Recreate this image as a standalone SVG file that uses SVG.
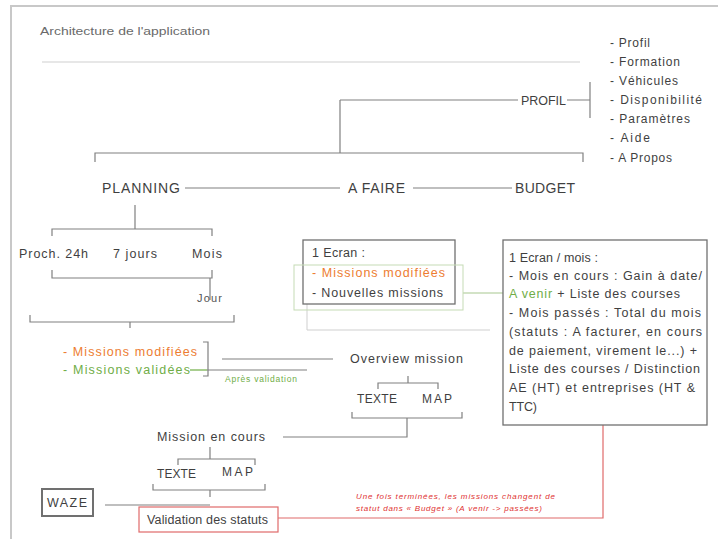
<svg xmlns="http://www.w3.org/2000/svg" width="718" height="539" viewBox="0 0 718 539">
<style>
  text { font-family: "Liberation Sans", Arial, sans-serif; fill: #3f3f3f; }
  .t { font-size: 11px; fill: #6a6a6a; }
  .m { font-size: 14px; }
  .s { font-size: 12.5px; }
  .b { font-size: 12.5px; }
  .l { font-size: 12px; }
  .ln { stroke: #808080; stroke-width: 1.2; fill: none; }
  .lt { stroke: #cfcfcf; stroke-width: 1; fill: none; }
  .box { fill: #fff; stroke: #707070; stroke-width: 1.3; }
  .or { fill: #ED7D31; }
  .gr { fill: #70AD47; }
  .rd { fill: #E03030; font-size: 8px; font-style: italic; }
</style>
<rect width="718" height="539" fill="#fff"/>
<!-- page frame -->
<path d="M11 539 V6 H718" stroke="#c8c8c8" stroke-width="2" fill="none"/>
<text x="40" y="35" class="t" textLength="170" lengthAdjust="spacingAndGlyphs">Architecture de l'application</text>

<g id="connectors">
  <path class="lt" d="M42 62 H580"/>
  <!-- profil -->
  <path class="ln" d="M340 100 H518 M340 100 V153"/>
  <path class="ln" d="M567 100 H590 M590 82 V118"/>
  <!-- main bracket -->
  <path class="ln" d="M95 162 V153 H583 V162"/>
  <path class="ln" d="M185 188 H340 M413 188 H512"/>
  <!-- planning -->
  <path class="ln" d="M135 205 V229 M52 236 V229 H212 V236"/>
  <path class="ln" d="M52 270 V278 H212 V270 M210 278 V300"/>
  <path class="ln" d="M30 315 V322 H234 V315 M130 322 V328"/>
  <path class="ln" d="M203 342 H208 V376 H203"/>
  <path stroke="#70AD47" stroke-width="1.2" d="M190 370 H207"/>
  <path class="ln" d="M222 359 H333 M207 370 H307"/>
  <path class="lt" d="M307 290 V330 H490"/>
  <!-- overview -->
  <path class="ln" d="M378 389 V383 H438 V389 M408 376 V383"/>
  <path class="ln" d="M352 412 V418 H462 V412 M407 418 V437 H283"/>
  <!-- mission en cours -->
  <path class="ln" d="M210 447 V459 M178 465 V459 H255 V465"/>
  <path class="ln" d="M153 484 V490 H265 V484 M210 490 V497"/>
  <path class="ln" d="M105 505 H210"/>
  <!-- a faire to budget -->
  <path stroke="#a8c890" stroke-width="1.2" d="M463 293 H503"/>
  <!-- statut to budget -->
  <path stroke="#e06a6a" stroke-width="1.2" fill="none" d="M278 518 H603 V425"/>
</g>

<g id="profil">
  <text x="521" y="105" style="font-size:12.5px" textLength="45">PROFIL</text>
</g>
<g id="profil-list">
  <text x="610" y="47" class="l" textLength="40">- Profil</text>
  <text x="610" y="66" class="l" textLength="70">- Formation</text>
  <text x="610" y="85" class="l" textLength="68">- Véhicules</text>
  <text x="610" y="104" class="l" textLength="92">- Disponibilité</text>
  <text x="610" y="123" class="l" textLength="80">- Paramètres</text>
  <text x="610" y="142" class="l" textLength="40">- Aide</text>
  <text x="610" y="162" class="l" textLength="62">- A Propos</text>
</g>
<g id="planning"><text x="102" y="193" class="m" textLength="78">PLANNING</text></g>
<g id="afaire"><text x="348" y="193" class="m" textLength="57">A FAIRE</text></g>
<g id="budget"><text x="515" y="193" class="m" textLength="60">BUDGET</text></g>

<g id="proch"><text x="19" y="258" class="s" textLength="69">Proch. 24h</text></g>
<g id="jours"><text x="113" y="258" class="s" textLength="44">7 jours</text></g>
<g id="mois"><text x="192" y="258" class="s" textLength="30">Mois</text></g>
<g id="jour"><text x="197" y="302" class="t" style="fill:#555" textLength="25">Jour</text></g>

<g id="missions-liste">
  <text x="63" y="356" class="s or" textLength="134">- Missions modifiées</text>
  <text x="63" y="374" class="s gr" textLength="127">- Missions validées</text>
  <text x="225" y="382" style="font-size:8.5px" class="gr" textLength="72">Après validation</text>
</g>

<g id="afaire-box">
  <rect x="303" y="240" width="152" height="64" class="box"/>
  <rect x="294" y="265" width="169" height="45" fill="none" stroke="#c5dbb5" stroke-width="1"/>
  <text x="312" y="257" class="s" textLength="53">1 Ecran :</text>
  <text x="312" y="277" class="s or" textLength="133">- Missions modifiées</text>
  <text x="312" y="297" class="s" textLength="131">- Nouvelles missions</text>
</g>

<g id="budget-box">
  <rect x="503" y="240" width="204" height="185" class="box"/>
  <text x="509" y="262" class="b" textLength="89">1 Ecran / mois :</text>
  <text x="509" y="280" class="b" textLength="193">- Mois en cours : Gain à date/</text>
  <text x="509" y="298" class="b" textLength="171"><tspan class="gr">A venir</tspan> + Liste des courses</text>
  <text x="509" y="317" class="b" textLength="192">- Mois passés : Total du mois</text>
  <text x="509" y="336" class="b" textLength="193">(statuts : A facturer, en cours</text>
  <text x="509" y="355" class="b" textLength="188">de paiement, virement le...) +</text>
  <text x="509" y="373" class="b" textLength="191">Liste des courses / Distinction</text>
  <text x="509" y="392" class="b" textLength="186">AE (HT) et entreprises (HT &amp;</text>
  <text x="509" y="411" class="b" textLength="28">TTC)</text>
</g>

<g id="overview">
  <text x="350" y="363" class="s" textLength="113">Overview mission</text>
  <text x="357" y="403" style="font-size:12px" textLength="40">TEXTE</text>
  <text x="422" y="403" style="font-size:12px" textLength="30">MAP</text>
</g>

<g id="en-cours">
  <text x="157" y="441" class="s" textLength="108">Mission en cours</text>
  <text x="157" y="478" style="font-size:12px" textLength="39">TEXTE</text>
  <text x="222" y="476" style="font-size:12px" textLength="31">MAP</text>
</g>

<g id="waze">
  <rect x="42" y="489" width="51" height="27" class="box" style="stroke-width:2"/>
  <text x="47" y="507" class="s" textLength="40">WAZE</text>
</g>

<g id="statuts">
  <rect x="139" y="507" width="139" height="25" fill="#fff" stroke="#e06a6a" stroke-width="1.2"/>
  <text x="147" y="524" class="s" textLength="121">Validation des statuts</text>
</g>

<g id="note">
  <text x="356" y="499" class="rd" textLength="199">Une fois terminées, les missions changent de</text>
  <text x="356" y="511" class="rd" textLength="186">statut dans « Budget » (A venir -&gt; passées)</text>
</g>
</svg>
